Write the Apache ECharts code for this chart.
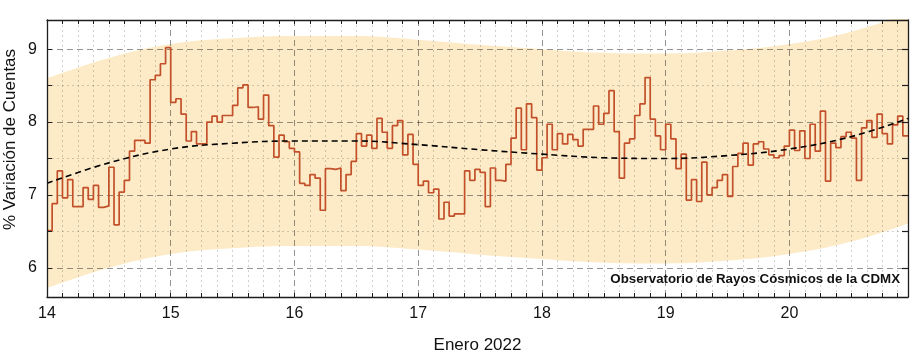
<!DOCTYPE html>
<html><head><meta charset="utf-8">
<script src="https://cdn.jsdelivr.net/npm/echarts@6/dist/echarts.min.js"></script>
<style>html,body{margin:0;padding:0;background:#fff}#c{width:920px;height:358px}</style>
</head><body><div id="c"></div>
<script>
// ---- tick labels ----
const xTickLabels = [14, 15, 16, 17, 18, 19, 20];
const yTickLabels = [6, 7, 8, 9];
const yHalfTicks = [6.5, 7.5, 8.5];
const xMin = 14, xMax = 14 + 167 / 24;
const yMin = 5.6, yMax = 9.4;

// ---- hourly % variation (Enero 2022), one array per day ----
const day14 = [6.51, 6.88, 7.33, 6.96, 7.21, 6.84, 6.84, 7.10, 6.94, 7.13, 6.83, 6.85, 7.38, 6.59, 7.04, 7.20, 7.60, 7.75, 7.75, 7.71, 8.58, 8.64, 8.80, 9.02];
const day15 = [8.27, 8.32, 8.11, 7.74, 7.87, 7.70, 7.70, 8.00, 8.08, 8.00, 8.09, 8.09, 8.23, 8.47, 8.51, 8.20, 8.21, 8.04, 8.37, 7.95, 7.52, 7.82, 7.73, 7.64];
const day16 = [7.59, 7.16, 7.13, 7.28, 7.23, 6.79, 7.36, 7.35, 7.37, 7.06, 7.28, 7.46, 7.84, 7.67, 7.82, 7.64, 8.05, 7.86, 7.64, 7.95, 8.02, 7.55, 7.83, 7.42];
const day17 = [7.13, 7.19, 7.03, 7.08, 6.67, 6.90, 6.71, 6.74, 6.74, 7.33, 7.20, 7.35, 7.31, 6.84, 7.37, 7.20, 7.19, 7.42, 7.78, 8.19, 7.62, 8.25, 8.06, 7.34];
const day18 = [7.51, 7.97, 7.62, 7.84, 7.70, 7.83, 7.76, 7.67, 7.90, 7.90, 8.22, 7.97, 8.12, 8.43, 7.87, 7.23, 7.71, 7.77, 8.09, 8.25, 8.61, 8.04, 7.81, 7.62];
const day19 = [7.97, 7.77, 7.36, 7.56, 6.93, 7.21, 6.91, 7.45, 7.00, 7.10, 7.20, 7.28, 6.98, 7.39, 7.57, 7.71, 7.41, 7.70, 7.73, 7.63, 7.55, 7.51, 7.54, 7.67];
const day20 = [7.89, 7.61, 7.88, 7.50, 7.97, 7.60, 8.15, 7.19, 7.71, 7.65, 7.80, 7.86, 7.78, 7.20, 7.92, 8.02, 7.79, 8.11, 7.84, 7.70, 7.96, 8.08, 7.81];

// ---- trend and band (read at half-day positions) ----
const trendX = [14, 14.5, 15, 15.5, 16, 16.5, 17, 17.5, 18, 18.5, 19, 19.5, 20, 20.5, 20.9583];
const trendY = [7.16, 7.44, 7.63, 7.71, 7.74, 7.74, 7.69, 7.62, 7.56, 7.51, 7.50, 7.54, 7.63, 7.80, 8.05];
const bandUpper = [8.60, 8.88, 9.07, 9.15, 9.18, 9.18, 9.13, 9.06, 9.00, 8.95, 8.94, 8.98, 9.07, 9.24, 9.49];
const bandLower = [5.72, 6.00, 6.19, 6.27, 6.30, 6.30, 6.25, 6.18, 6.12, 6.07, 6.06, 6.10, 6.19, 6.36, 6.61];

// ---- build structures the library needs ----
const values = [].concat(day14, day15, day16, day17, day18, day19, day20);
const stepData = values.map((v, i) => [14 + i / 24, v]);
stepData.push([14 + values.length / 24, values[values.length - 1]]);
const upData = trendX.map((x, i) => [x, bandUpper[i]]);
const lowData = trendX.map((x, i) => [x, bandLower[i]]);
const trendData = trendX.map((x, i) => [x, trendY[i]]);

const xAllTicks = [], xMinorOnly = [];
for (let k = 0; k <= 55; k++) { const v = 14 + k / 8; xAllTicks.push(v); if (k % 8) xMinorOnly.push(v); }
const yAllTicks = [6, 6.5, 7, 7.5, 8, 8.5, 9];

const FONT = 'Liberation Sans, Arial, sans-serif';
const frame = { show: true, lineStyle: { color: '#1e1e1e', width: 1.3 } };
const hidden = { show: false };
const MAJOR = { show: true, lineStyle: { color: 'rgba(0,0,0,0.42)', width: 1, type: [6, 4] } };
const MINOR = { show: true, lineStyle: { color: 'rgba(0,0,0,0.18)', width: 1, type: [2, 3] } };

function xAx(extra) {
  return Object.assign({ type: 'value', min: xMin, max: xMax, gridIndex: 0, z: 2,
    axisLine: hidden, axisTick: hidden, axisLabel: hidden, splitLine: hidden }, extra);
}
function yAx(extra) {
  return Object.assign({ type: 'value', min: yMin, max: yMax, gridIndex: 0, z: 2,
    axisLine: hidden, axisTick: hidden, axisLabel: hidden, splitLine: hidden }, extra);
}

const option = {
  animation: false,
  backgroundColor: '#ffffff',
  grid: { left: 47, right: 12, top: 20, bottom: 61, containLabel: false },
  xAxis: [
    xAx({ position: 'bottom', z: 6, axisLine: frame,
      axisTick: { show: true, inside: true, length: 4, customValues: xAllTicks, lineStyle: { color: '#1e1e1e', width: 1 } },
      axisLabel: { show: true, customValues: xTickLabels, fontSize: 16, color: '#111', margin: 9, fontFamily: FONT } }),
    xAx({ position: 'top', z: 6, axisLine: frame,
      axisTick: { show: true, inside: true, length: 4, customValues: xAllTicks, lineStyle: { color: '#1e1e1e', width: 1 } } }),
    xAx({ position: 'bottom', axisTick: { show: false, customValues: xTickLabels }, splitLine: MAJOR }),
    xAx({ position: 'bottom', axisTick: { show: false, customValues: xMinorOnly }, splitLine: MINOR })
  ],
  yAxis: [
    yAx({ position: 'left', z: 6, axisLine: frame,
      axisTick: { show: true, inside: true, length: 5, customValues: yAllTicks, lineStyle: { color: '#1e1e1e', width: 1 } },
      axisLabel: { show: true, customValues: yTickLabels, fontSize: 16, color: '#111', margin: 10, fontFamily: FONT } }),
    yAx({ position: 'right', z: 6, axisLine: frame,
      axisTick: { show: true, inside: true, length: 6, customValues: yAllTicks, lineStyle: { color: '#1e1e1e', width: 1.2 } } }),
    yAx({ position: 'left', axisTick: { show: false, customValues: yTickLabels }, splitLine: MAJOR }),
    yAx({ position: 'left', axisTick: { show: false, customValues: yHalfTicks }, splitLine: MINOR })
  ],
  series: [
    { type: 'line', name: 'bandUp', data: upData, smooth: 0.4, symbol: 'none',
      lineStyle: { opacity: 0 }, areaStyle: { color: '#fdebc7', opacity: 1, origin: 'start' }, silent: true, z: 1 },
    { type: 'line', name: 'bandLow', data: lowData, smooth: 0.4, symbol: 'none',
      lineStyle: { opacity: 0 }, areaStyle: { color: '#ffffff', opacity: 1, origin: 'start' }, silent: true, z: 1 },
    { type: 'line', name: 'cuentas', data: stepData, step: 'end', symbol: 'none',
      lineStyle: { color: '#c2502a', width: 1.7 }, z: 3 },
    { type: 'line', name: 'tendencia', data: trendData, smooth: 0.4, symbol: 'none',
      lineStyle: { color: '#000', width: 1.6, type: [6, 4] }, z: 4 }
  ],
  graphic: [
    { type: 'text', x: 10, y: 139.5, rotation: Math.PI / 2,
      style: { text: '% Variación de Cuentas', fontSize: 17, fontFamily: FONT, fill: '#111', textAlign: 'center', textVerticalAlign: 'middle' } },
    { type: 'text', x: 477.5, y: 345.5,
      style: { text: 'Enero 2022', fontSize: 17, fontFamily: FONT, fill: '#111', textAlign: 'center', textVerticalAlign: 'middle' } },
    { type: 'text', x: 900, y: 279.5, z: 10,
      style: { text: 'Observatorio de Rayos Cósmicos de la CDMX', fontSize: 13.3, fontWeight: 'bold', fontFamily: FONT, fill: '#111', textAlign: 'right', textVerticalAlign: 'middle' } }
  ]
};

const chart = echarts.init(document.getElementById('c'), null, { renderer: 'canvas' });
chart.setOption(option);
</script>
</body></html>
